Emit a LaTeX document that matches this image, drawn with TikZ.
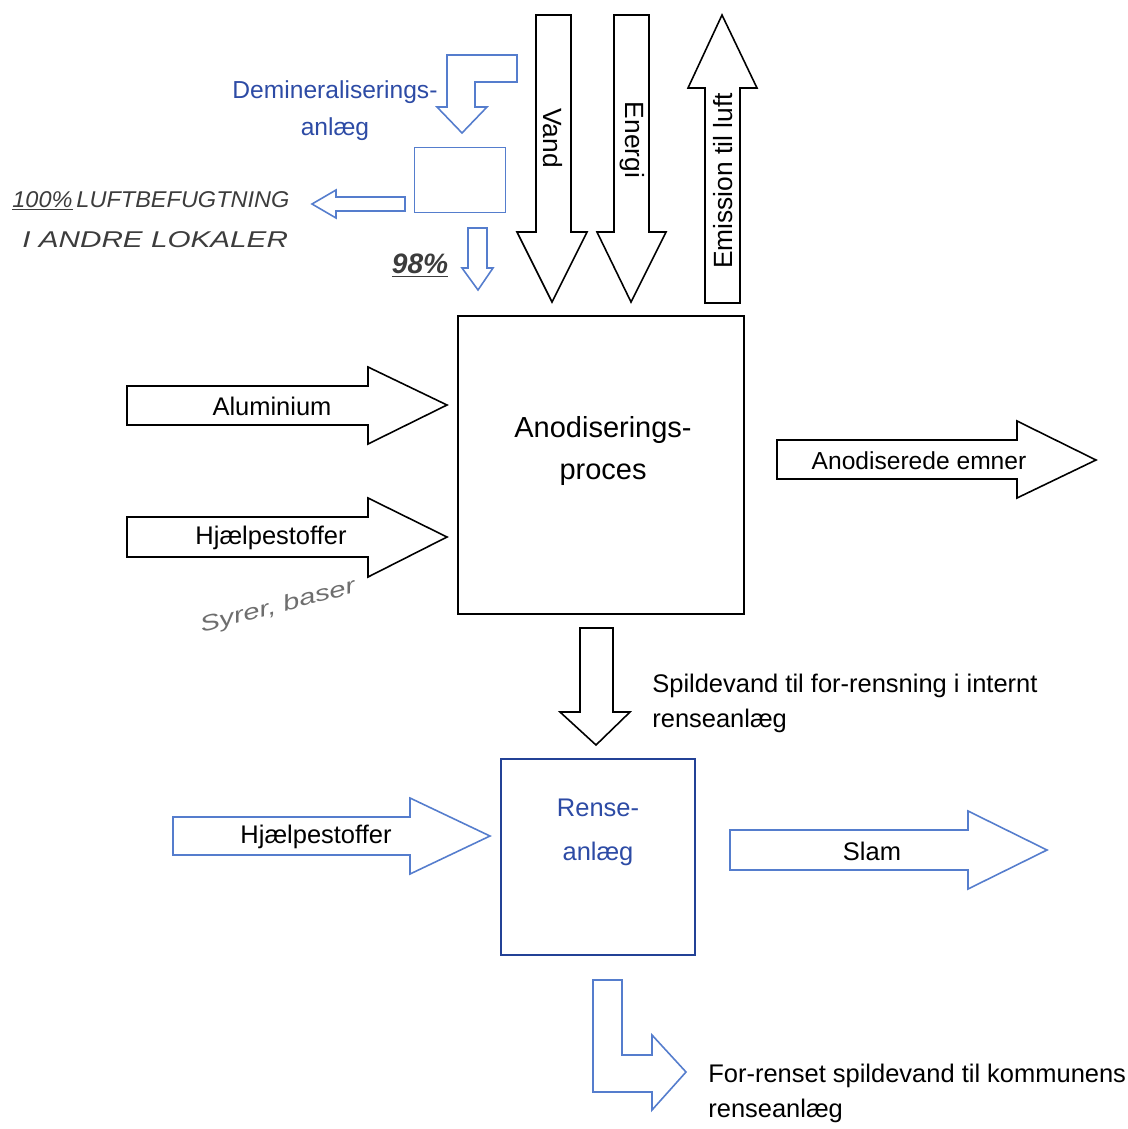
\documentclass[tikz,border=0pt]{standalone}
\usepackage{fontspec}
\setmainfont{Liberation Sans}
\usetikzlibrary{positioning}

\definecolor{demiblue}{RGB}{45,75,165}
\definecolor{lineblue}{RGB}{85,125,205}
\definecolor{renseblue}{RGB}{35,65,150}
\definecolor{pencil}{RGB}{60,60,60}
\definecolor{softpencil}{RGB}{110,110,110}

\tikzset{
  fatarrow/.style={draw=black, line width=0.9pt, fill=white, line join=miter},
  bluearrow/.style={draw=lineblue, line width=0.9pt, fill=white, line join=miter},
  lbl/.style={font=\fontsize{14.5}{20}\selectfont, inner sep=0pt},
  hand/.style={font=\fontsize{13}{15}\selectfont\itshape, text=pencil, inner sep=0pt},
}

\begin{document}
\begin{tikzpicture}[x=0.02cm,y=-0.02cm]
  \useasboundingbox (0,0) rectangle (1128,1129);

  % boxes
  \node [draw, line width=1.1pt, minimum width=5.72cm, minimum height=5.96cm] (anod) at (601,465) {};
  \node [draw=renseblue, line width=1.2pt, minimum width=3.88cm, minimum height=3.92cm] (rense) at (598,857) {};
  \node [draw=lineblue, line width=1pt, minimum width=1.82cm, minimum height=1.3cm] (demi) at (460,180) {};

  \node [lbl, font=\fontsize{16.5}{24}\selectfont, align=center] (anodtxt) at (603,451) {Anodiserings-\\proces};
  \node [lbl, text=demiblue, font=\fontsize{14.5}{25}\selectfont, align=center] (rensetxt) at (598,832) {Rense-\\anlæg};
  \node [lbl, text=demiblue, font=\fontsize{14}{21}\selectfont, align=center] (demitxt) at (335,111) {Demineraliserings-\\anlæg};

  % inputs and outputs of the anodising
  \draw [fatarrow] (536,15) -- (571,15) -- (571,232) -- (587,232) -- (552,302) -- (517,232) -- (536,232) -- cycle;
  \draw [fatarrow] (614,15) -- (649,15) -- (649,232) -- (666,232) -- (631,302) -- (597,232) -- (614,232) -- cycle;
  \draw [fatarrow] (705,303) -- (740,303) -- (740,88) -- (757,88) -- (722,15) -- (688,88) -- (705,88) -- cycle;
  \draw [fatarrow] (127,386) -- (368,386) -- (368,367) -- (447,405) -- (368,444) -- (368,425) -- (127,425) -- cycle;
  \draw [fatarrow] (127,517) -- (368,517) -- (368,498) -- (447,537) -- (368,577) -- (368,557) -- (127,557) -- cycle;
  \draw [fatarrow] (777,440) -- (1017,440) -- (1017,421) -- (1096,460) -- (1017,498) -- (1017,479) -- (777,479) -- cycle;
  \draw [fatarrow] (580,628) -- (613,628) -- (613,712) -- (630,712) -- (596,745) -- (560,712) -- (580,712) -- cycle;

  \node [lbl, font=\fontsize{15}{18}\selectfont, rotate=-90] (vand) at (553,138) {Vand};
  \node [lbl, font=\fontsize{15}{18}\selectfont, rotate=-90] (energi) at (632,140) {Energi};
  \node [lbl, font=\fontsize{15}{18}\selectfont, rotate=90] (emission) at (723,181) {Emission til luft};
  \node [lbl] (alu) at (272,406) {Aluminium};
  \node [lbl] (hjaelp) at (271,538) {Hjælpestoffer};
  \node [lbl, font=\fontsize{14}{18}\selectfont] (emner) at (919,461) {Anodiserede emner};
  \node [lbl, anchor=west, align=left, font=\fontsize{14.5}{20}\selectfont] (spilde) at (652,703) {Spildevand til for-rensning i internt\\renseanlæg};

  % the cleaning plant
  \draw [bluearrow] (173,817) -- (410,817) -- (410,798) -- (490,836) -- (410,874) -- (410,855) -- (173,855) -- cycle;
  \draw [bluearrow] (730,830) -- (968,830) -- (968,811) -- (1047,850) -- (968,889) -- (968,870) -- (730,870) -- cycle;
  \draw [bluearrow] (593,980) -- (622,980) -- (622,1055) -- (652,1055) -- (652,1035) -- (686,1072) -- (652,1110) -- (652,1092) -- (593,1092) -- cycle;

  \node [lbl] (hjaelp2) at (316,837) {Hjælpestoffer};
  \node [lbl] (slam) at (872,851) {Slam};
  \node [lbl, anchor=west, align=left, font=\fontsize{14.5}{20}\selectfont] (forrenset) at (708,1093) {For-renset spildevand til kommunens\\renseanlæg};

  % demineralising plant
  \draw [bluearrow] (517,55) -- (447,55) -- (447,107) -- (437,107) -- (462,133) -- (487,107) -- (475,107) -- (475,82) -- (517,82) -- cycle;
  \draw [bluearrow] (405,197) -- (336,197) -- (336,190) -- (312,204) -- (336,218) -- (336,211) -- (405,211) -- cycle;
  \draw [bluearrow] (468,228) -- (487,228) -- (487,268) -- (493,268) -- (478,290) -- (462,268) -- (468,268) -- cycle;

  % pencil notes
  \node [hand, anchor=west] (luft) at (12,201) {\scalebox{1.03}[1]{\underline{100\%}\,LUFTBEFUGTNING}};
  \node [hand, anchor=west] (lokaler) at (22,240) {\scalebox{1.3}[1]{I ANDRE LOKALER}};
  \node [hand, font=\fontsize{16}{18}\selectfont\itshape\bfseries] (pct) at (420,266) {\underline{98\%}};
  \node [hand, text=softpencil, rotate=14.5, font=\fontsize{12.5}{15}\selectfont\itshape] (syrer) at (278,607) {\scalebox{1.35}[1]{Syrer, baser}};
\end{tikzpicture}
\end{document}
